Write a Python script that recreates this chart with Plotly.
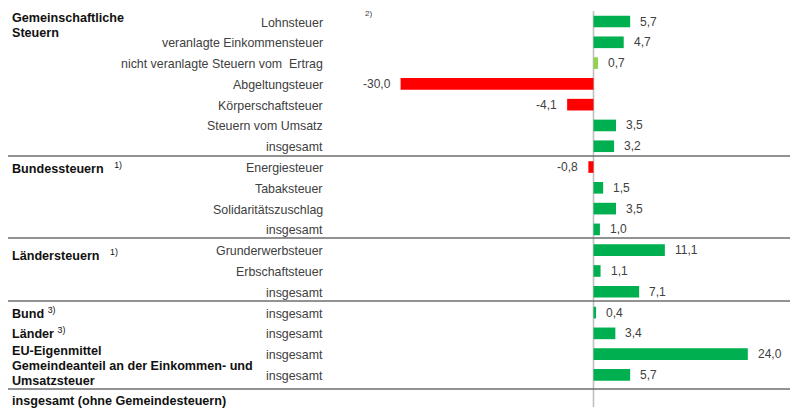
import plotly.graph_objects as go

# ---- data ----
categories = [
    "Lohnsteuer", "veranlagte Einkommensteuer", "nicht veranlagte Steuern vom  Ertrag",
    "Abgeltungsteuer", "Körperschaftsteuer", "Steuern vom Umsatz", "insgesamt",
    "Energiesteuer", "Tabaksteuer", "Solidaritätszuschlag", "insgesamt",
    "Grunderwerbsteuer", "Erbschaftsteuer", "insgesamt",
    "insgesamt", "insgesamt", "insgesamt", "insgesamt",
]
values = [5.7, 4.7, 0.7, -30.0, -4.1, 3.5, 3.2,
          -0.8, 1.5, 3.5, 1.0,
          11.1, 1.1, 7.1,
          0.4, 3.4, 24.0, 5.7]
group_labels = [
    "Gemeinschaftliche<br>Steuern",
    "Bundessteuern&nbsp;&nbsp;&nbsp;<sup>1)</sup>",
    "Ländersteuern&nbsp;&nbsp;&nbsp;<sup>1)</sup>",
    "Bund <sup>3)</sup>",
    "Länder <sup>3)</sup>",
    "EU-Eigenmittel",
    "Gemeindeanteil an der Einkommen- und<br>Umsatzsteuer",
    "insgesamt (ohne Gemeindesteuern)",
]

# ---- styling / layout ----
W, H = 790, 410
GREEN, LIGHT_GREEN, RED = "#00B050", "#92D050", "#FF0000"
FONT = "Liberation Sans, Arial, sans-serif"
TXT = "#404040"

def color_for(i, v):
    if v < 0:
        return RED
    if categories[i].startswith("nicht veranlagte"):
        return LIGHT_GREEN
    return GREEN

rows = list(range(len(values)))
colors = [color_for(i, v) for i, v in enumerate(values)]

row0_px, row_step = 21.5, 20.79
zero_px, px_per_unit = 593.5, 6.43

def py(px):
    return 1 - px / H

fig = go.Figure(go.Bar(
    x=values, y=rows, orientation="h", width=0.56,
    marker=dict(color=colors, line=dict(width=0)),
    hoverinfo="skip",
))

ann = []
# category labels
for i, c in enumerate(categories):
    ann.append(dict(x=325 / W, xref="paper", y=i, yref="y", text=c,
                    xanchor="right", yanchor="middle", showarrow=False, yshift=-1,
                    font=dict(family=FONT, size=12.4, color=TXT)))
# value labels
for i, v in enumerate(values):
    s = f"{v:.1f}".replace(".", ",")
    ann.append(dict(x=v, xref="x", y=i, yref="y", text=s,
                    xanchor="left" if v >= 0 else "right", yanchor="middle",
                    xshift=8 if v >= 0 else -8, showarrow=False,
                    font=dict(family=FONT, size=12, color=TXT)))
# group labels (multi-line labels are set line by line, 15 px apart)
group_px = [25.8, 168, 255, 313, 333, 351, 373, 401]
for t, p in zip(group_labels, group_px):
    lines = t.split("<br>")
    top = p - 7.5 * (len(lines) - 1)
    for k, ln in enumerate(lines):
        ln = ln.replace("<sup>", "</b><sup>").replace("</sup>", "</sup><b>")
        ann.append(dict(x=10 / W, xref="paper", y=py(top + 15 * k), yref="paper",
                        text=f"<b>{ln}</b>", xanchor="left", yanchor="middle",
                        align="left", showarrow=False,
                        font=dict(family=FONT, size=12.6, color="#111111")))
ann.append(dict(x=363 / W, xref="paper", y=py(13), yref="paper", text="2)",
                xanchor="left", yanchor="middle", showarrow=False,
                font=dict(family=FONT, size=8, color=TXT)))

shapes = [dict(type="line", xref="x", x0=0, x1=0, yref="paper", y0=py(11), y1=py(407),
               line=dict(color="#BFBFBF", width=1.6), layer="below")]
for p in [156, 238, 301, 389]:
    shapes.append(dict(type="line", xref="paper", x0=8 / W, x1=1, yref="paper",
                       y0=py(p), y1=py(p), line=dict(color="#6E6E6E", width=1.6)))

fig.update_layout(
    width=W, height=H, margin=dict(l=0, r=0, t=0, b=0),
    paper_bgcolor="white", plot_bgcolor="white", showlegend=False,
    xaxis=dict(range=[-zero_px / px_per_unit, (W - zero_px) / px_per_unit],
               visible=False, fixedrange=True),
    yaxis=dict(range=[(H - row0_px) / row_step, -row0_px / row_step],
               visible=False, fixedrange=True),
    annotations=ann, shapes=shapes,
)
fig.write_html("out.html", config={"displayModeBar": False},
               post_script="document.body.style.margin='0';document.body.style.overflow='hidden';")
